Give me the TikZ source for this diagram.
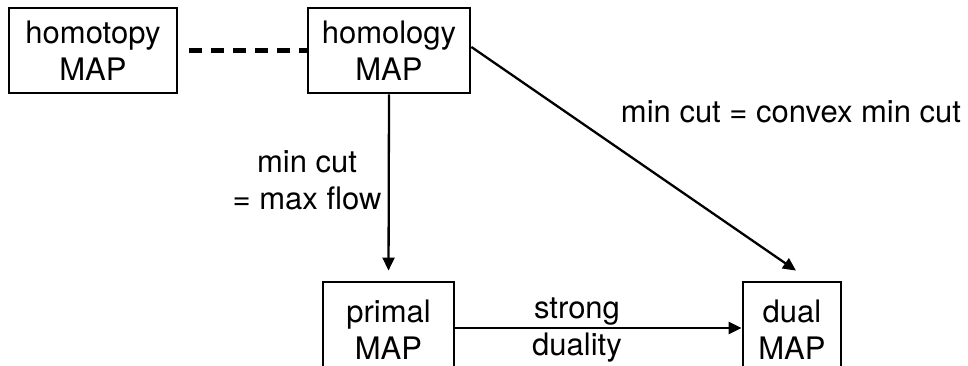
\documentclass[tikz,border=0pt]{standalone}
\usepackage{fontspec}
\setmainfont{TeX Gyre Heros}
\usetikzlibrary{arrows.meta,calc}
\begin{document}
\begin{tikzpicture}[x=1pt,y=1pt,
  mapbox/.style={draw,line width=2.8pt,align=center,inner sep=0pt,
    font=\fontsize{31}{37}\selectfont},
  lbl/.style={align=center,inner sep=0pt,font=\fontsize{31}{37}\selectfont},
  conn/.style={line width=2.3pt,-{Triangle[length=13pt,width=12pt]}}]
\useasboundingbox (0,0) rectangle (968,366);
\clip (0,0) rectangle (968,366);
\node[mapbox,minimum width=168pt,minimum height=85pt] (homotopy) at (93,315.5) {homotopy\\MAP};
\node[mapbox,minimum width=162pt,minimum height=85pt] (homology) at (389,315.5) {homology\\MAP};
\node[mapbox,minimum width=131pt,minimum height=96pt] (primal) at (388.5,36) {primal\\MAP};
\node[mapbox,minimum width=98pt,minimum height=96pt] (dual) at (792,36) {dual\\MAP};
\coordinate (dualtip) at ($(dual.north)+(4,10)$);
\draw[line width=4.5pt,dash pattern=on 13pt off 9pt] ([xshift=11pt]homotopy.east) -- (homology.west);
\draw[conn,shorten >=10pt] (homology.south) -- (primal.north);
\draw[conn] ([yshift=2pt]primal.east) -- ([yshift=2pt]primal.east -| dual.west);
\draw[conn] ([yshift=3.5pt]homology.east) -- (dualtip);
\node[lbl] (l1) at (791,254) {min cut = convex min cut};
\node[lbl] (l2) at (307,186) {min cut\\= max flow};
\node[lbl] (l3) at (577,36) {strong\\duality};
\end{tikzpicture}
\end{document}
